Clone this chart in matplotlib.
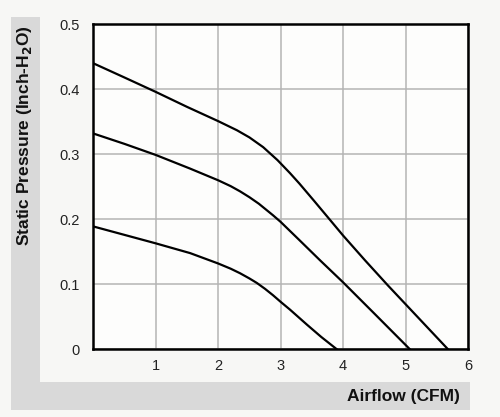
import matplotlib
matplotlib.use("Agg")
import matplotlib.pyplot as plt
from matplotlib.patches import Rectangle

plt.rcParams['font.family'] = ['Liberation Sans', 'DejaVu Sans']

# Fan curves (Airflow CFM vs Static Pressure Inch-H2O)
top_x = [0, 0.48, 1, 1.5, 2, 2.3, 2.5, 2.72, 2.95, 3.15, 3.3, 3.53, 3.8, 4.0, 4.35, 4.72, 5.2, 5.68]
top_y = [0.44, 0.419, 0.396, 0.373, 0.351, 0.337, 0.326, 0.311, 0.291, 0.271, 0.255, 0.229,
         0.198, 0.175, 0.137, 0.098, 0.049, 0]
mid_x = [0, 0.5, 1, 1.55, 2, 2.2, 2.35, 2.5, 2.65, 2.88, 3.0, 3.15, 3.3, 3.63, 4.0, 4.5, 5.07]
mid_y = [0.332, 0.316, 0.299, 0.278, 0.26, 0.251, 0.243, 0.234, 0.224, 0.206, 0.196, 0.182,
         0.168, 0.137, 0.103, 0.055, 0]
low_x = [0, 0.5, 1, 1.55, 2, 2.2, 2.35, 2.5, 2.62, 2.75, 2.88, 3.0, 3.15, 3.42, 3.65, 3.9]
low_y = [0.189, 0.176, 0.163, 0.148, 0.132, 0.124, 0.117, 0.109, 0.102, 0.093, 0.083, 0.073,
         0.061, 0.038, 0.019, 0]

x_ticks = [1, 2, 3, 4, 5, 6]
x_tick_labels = ['1', '2', '3', '4', '5', '6']
y_ticks = [0, 0.1, 0.2, 0.3, 0.4, 0.5]
y_tick_labels = ['0', '0.1', '0.2', '0.3', '0.4', '0.5']

W, H = 500, 417
fig = plt.figure(figsize=(W / 100, H / 100), dpi=100)
fig.patch.set_facecolor('#f7f7f5')

def fx(px):
    return px / W

def fy(py):
    return 1 - py / H

band = '#d9d9d9'
fig.patches.append(Rectangle((fx(11), fy(382)), fx(40) - fx(11), fy(17) - fy(382),
                             transform=fig.transFigure, facecolor=band, edgecolor='none', zorder=0))
fig.patches.append(Rectangle((fx(11), fy(410)), fx(470) - fx(11), fy(382) - fy(410),
                             transform=fig.transFigure, facecolor=band, edgecolor='none', zorder=0))

ax = fig.add_axes([fx(93.3), fy(349.3), fx(468) - fx(93.3), fy(24.3) - fy(349.3)])
ax.set_facecolor('#fdfdfc')

for xs, ys in [(top_x, top_y), (mid_x, mid_y), (low_x, low_y)]:
    ax.plot(xs, ys, color='black', lw=1.6, solid_joinstyle='round', zorder=3)

ax.set_xlim(0, 6)
ax.set_ylim(0, 0.5)
ax.set_xticks(x_ticks)
ax.set_xticklabels(x_tick_labels)
ax.set_yticks(y_ticks)
ax.set_yticklabels(y_tick_labels)
ax.grid(True, color='#b4b4b4', lw=1.1)
ax.set_axisbelow(True)
ax.tick_params(axis='both', length=0, labelsize=10.5, colors='#222222')
ax.tick_params(axis='y', pad=10)
ax.tick_params(axis='x', pad=7)
for s in ax.spines.values():
    s.set_color('black')
    s.set_linewidth(1.8)

fig.text(fx(25), fy(136), 'Static Pressure (Inch-H$_\\mathbf{2}$O)', rotation=90,
         ha='center', va='center', fontsize=12.5, fontweight='bold', color='#111111')
fig.text(fx(460), fy(397), 'Airflow (CFM)', ha='right', va='center',
         fontsize=12.5, fontweight='bold', color='#111111')

fig.savefig('out.png', dpi=100, facecolor=fig.get_facecolor())
